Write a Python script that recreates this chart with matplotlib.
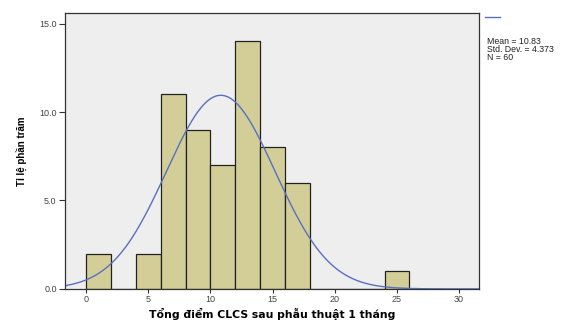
import numpy as np
import matplotlib
matplotlib.use('Agg')
import matplotlib.pyplot as plt

# histogram data (bin width 2, starting at 0)
bin_edges = [0, 2, 4, 6, 8, 10, 12, 14, 16, 18, 20, 22, 24, 26]
counts = [2, 0, 2, 11, 9, 7, 14, 8, 6, 0, 0, 0, 1]
mean = 10.83
std = 4.373
n = 60
x_ticks = [0, 5, 10, 15, 20, 25, 30]
y_ticks = [0.0, 5.0, 10.0, 15.0]

plt.rcParams['font.family'] = ['Liberation Sans', 'DejaVu Sans']

fig = plt.figure(figsize=(5.71, 3.21), dpi=100)
ax = fig.add_axes([0.1138, 0.100, 0.7251, 0.8595])
ax.set_facecolor('#eeeeee')

widths = np.diff(bin_edges)
ax.bar(bin_edges[:-1], counts, width=widths, align='edge',
       color='#d3ce97', edgecolor='#222222', linewidth=0.9)

xs = np.linspace(-2, 32, 400)
bw = bin_edges[1] - bin_edges[0]
ys = n * bw / (std * np.sqrt(2 * np.pi)) * np.exp(-0.5 * ((xs - mean) / std) ** 2)
ax.plot(xs, ys, color='#5a6fbf', linewidth=1.0)

ax.set_xlim(-1.7, 31.6)
ax.set_ylim(0, 15.6)
ax.set_xticks(x_ticks)
ax.set_xticklabels([str(t) for t in x_ticks])
ax.set_yticks(y_ticks)
ax.set_yticklabels(['%.1f' % t for t in y_ticks])
ax.tick_params(axis='both', labelsize=6.5, length=4, width=0.8, colors='#333333',
               labelcolor='#444444', pad=2)
ax.tick_params(axis='x', length=3, pad=1.5)
for s in ax.spines.values():
    s.set_color('#333333')
    s.set_linewidth(0.9)

# x label placed at the very bottom so that it stays inside the figure
fig.text(272 / 571, 0.003, 'Tổng điểm CLCS sau phẫu thuật 1 tháng', fontsize=7.8,
         fontweight='bold', family=['DejaVu Sans'], ha='center', va='bottom')
ax.set_ylabel('Tỉ lệ phần trăm', fontsize=7, fontweight='bold', labelpad=9)

# legend-like annotation on the right
fig.lines.append(plt.Line2D([485 / 571, 500 / 571], [1 - 17 / 321, 1 - 17 / 321],
                            color='#5a6fbf', linewidth=1.0, transform=fig.transFigure))
fig.text(487 / 571, 1 - 37 / 321,
         'Mean = %.2f\nStd. Dev. = %.3f\nN = %d' % (mean, std, n),
         fontsize=6.3, va='top', ha='left', linespacing=0.85, color='#222222')

fig.savefig('out.png', dpi=100)
